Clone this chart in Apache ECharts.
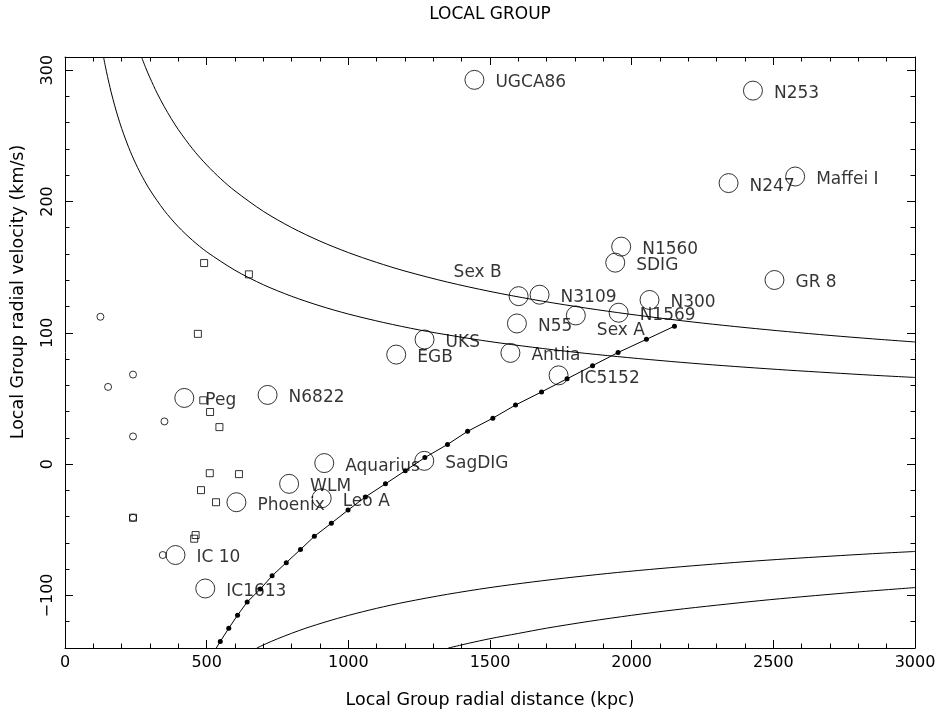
<!DOCTYPE html>
<html>
<head>
<meta charset="utf-8">
<title>Local Group</title>
<script src="https://cdn.jsdelivr.net/npm/echarts@6/dist/echarts.min.js"></script>
<style>
  html, body { margin: 0; padding: 0; background: #fff; }
  #chart { width: 940px; height: 715px; }
</style>
</head>
<body>
<div id="chart"></div>
<script>
// ---- Named galaxies: Local Group radial distance (kpc) and radial velocity (km/s)
const galaxyNames = ['UGCA86', 'N253', 'N247', 'Maffei I', 'GR 8', 'N1560', 'SDIG', 'Sex B', 'N3109',
  'N300', 'N1569', 'N55', 'Sex A', 'UKS', 'EGB', 'Antlia', 'IC5152', 'Peg', 'N6822', 'Aquarius',
  'SagDIG', 'WLM', 'Leo A', 'Phoenix', 'IC 10', 'IC1613'];
const galaxyDist = [1445, 2428, 2342, 2577, 2504, 1963, 1942, 1601, 1675,
  2063, 1954, 1595, 1803, 1269, 1169, 1572, 1742, 421, 715, 915,
  1268, 791, 906, 605, 390, 495];
const galaxyVel = [292.6, 284.4, 214, 219, 140.2, 165.6, 153.4, 127.9, 129,
  125, 115.3, 107.1, 113.2, 94.9, 83.4, 84.7, 67.6, 50.4, 52.7, 0.8,
  2.5, -15, -26, -29, -69.2, -94.7];

// ---- Satellites shown as small circles
const smallCircDist = [125, 240, 152, 351, 240, 240, 345];
const smallCircVel = [112.2, 68.2, 58.8, 32.5, 21.1, -40.8, -69.2];

// ---- Satellites shown as small squares
const squareDist = [491, 649, 469, 488, 512, 545, 511, 614, 480, 533, 240, 461, 456];
const squareVel = [153.1, 144.5, 99.2, 48.6, 39.7, 28.2, -6.9, -7.6, -19.8, -29, -40.8, -54, -56.8];

// ---- Model trajectory (time steps marked by dots)
const trajDist = [2151, 2052, 1952, 1862, 1772, 1682, 1590, 1510, 1421, 1350, 1270, 1201, 1131,
  1060, 999, 940, 880, 831, 781, 731, 690, 643, 609, 578, 548, 520];
const trajVel = [105, 95, 85, 75, 65, 55, 45, 35, 25, 15, 5, -5, -15,
  -25, -35, -45, -55, -65, -75, -85, -95, -105, -115, -125, -135, -145];

// ---- Escape-velocity envelopes
const upperOuterDist = [270, 285, 300, 325, 350, 375, 400, 450, 500, 550, 600, 700, 800, 900, 1000, 1100, 1200,
  1350, 1500, 1650, 1800, 1950, 2100, 2250, 2400, 2550, 2700, 2850, 3000];
const upperOuterVel = [310.0, 301.7, 294.1, 282.5, 272.3, 263.1, 254.7, 240.1, 227.8, 217.2, 208.0, 192.5, 180.1,
  169.8, 161.1, 153.6, 147.0, 138.6, 131.5, 125.4, 120.1, 115.4, 111.2, 107.4, 104.0, 100.9, 98.0, 95.4, 93.0];
const upperInnerDist = [136, 143, 150, 162, 175, 187, 200, 225, 250, 275, 300, 350, 400, 450, 500, 600, 700, 800,
  900, 1000, 1125, 1250, 1375, 1500, 1650, 1800, 1950, 2100, 2250, 2400, 2550, 2700, 2850, 3000];
const upperInnerVel = [310.0, 302.3, 295.2, 284.0, 273.3, 264.4, 255.6, 241.0, 228.6, 218.0, 208.7, 193.2, 180.7,
  170.4, 161.7, 147.6, 136.6, 127.8, 120.5, 114.3, 107.8, 102.2, 97.5, 93.3, 89.0, 85.2, 81.9, 78.9, 76.2, 73.8,
  71.6, 69.6, 67.7, 66.0];
const lowerInnerDist = [677, 710, 750, 800, 850, 925, 1000, 1100, 1200, 1350, 1500, 1650, 1800, 1950, 2100, 2250,
  2400, 2550, 2700, 2850, 3000];
const lowerInnerVel = [-140.0, -136.7, -133.0, -128.8, -124.9, -119.8, -115.2, -109.8, -105.1, -99.1, -94.0, -89.7,
  -85.9, -82.5, -79.5, -76.8, -74.3, -72.1, -70.1, -68.2, -66.5];
const lowerOuterDist = [1353, 1425, 1500, 1600, 1700, 1850, 2000, 2150, 2300, 2450, 2600, 2800, 3000];
const lowerOuterVel = [-140.0, -136.4, -132.9, -128.9, -124.9, -119.7, -115.1, -111.0, -107.4, -104.0, -101.0,
  -97.3, -94.0];

// ---- Axes
const xMajorTicks = [0, 500, 1000, 1500, 2000, 2500, 3000];
const xMinorTicks = [100, 200, 300, 400, 600, 700, 800, 900, 1100, 1200, 1300, 1400, 1600, 1700, 1800, 1900,
  2100, 2200, 2300, 2400, 2600, 2700, 2800, 2900];
const yMajorTicks = [-100, 0, 100, 200, 300];
const yMinorTicks = [-120, -80, -60, -40, -20, 20, 40, 60, 80, 120, 140, 160, 180, 220, 240, 260, 280];

const titleText = 'LOCAL GROUP';
const xTitle = 'Local Group radial distance (kpc)';
const yTitle = 'Local Group radial velocity (km/s)';

// ---- Styling
const INK = '#000';
const FONT = '"DejaVu Sans", sans-serif';
const LABEL_DROP = 3;
const labelShift = { 'Sex B': [-86, -24], 'Sex A': [0, 15] };

const pairs = (xs, ys) => xs.map((x, i) => [x, ys[i]]);

function xAxisDef(position, ticks, len, withLabels, withLine) {
  return {
    type: 'value', position, min: 0, max: 3000, interval: 100,
    axisLine: { show: withLine, onZero: false, lineStyle: { color: INK, width: 1 } },
    axisTick: { show: true, inside: true, length: len, customValues: ticks, lineStyle: { color: INK, width: 1 } },
    axisLabel: withLabels
      ? { show: true, customValues: xMajorTicks, margin: 7, color: INK, fontSize: 16, fontFamily: FONT,
          formatter: v => String(v) }
      : { show: false },
    splitLine: { show: false }
  };
}

function yAxisDef(position, ticks, len, withLabels, withLine) {
  return {
    type: 'value', position, min: -140, max: 310, interval: 20,
    axisLine: { show: withLine, onZero: false, lineStyle: { color: INK, width: 1 } },
    axisTick: { show: true, inside: true, length: len, customValues: ticks, lineStyle: { color: INK, width: 1 } },
    axisLabel: withLabels
      ? {
          show: true, customValues: yMajorTicks, rotate: 90, margin: 9, color: INK, fontSize: 16, fontFamily: FONT,
          formatter: v => (v < 0 ? '\u2212' + Math.abs(v) : String(v))
        }
      : { show: false },
    splitLine: { show: false }
  };
}

const lineCurve = (xs, ys) => ({
  type: 'line', data: pairs(xs, ys), smooth: 0.3, symbol: 'none',
  lineStyle: { color: INK, width: 1 }, silent: true, clip: true, z: 2
});

const hollow = { color: 'rgba(0,0,0,0)', borderColor: INK, borderWidth: 1 };

const option = {
  animation: false,
  backgroundColor: '#fff',
  grid: { left: 65, top: 57, right: 25, bottom: 67, containLabel: false },
  xAxis: [
    xAxisDef('bottom', xMajorTicks, 8, true, true),
    xAxisDef('bottom', xMinorTicks, 4.5, false, false),
    xAxisDef('top', xMajorTicks, 8, false, true),
    xAxisDef('top', xMinorTicks, 4.5, false, false)
  ],
  yAxis: [
    yAxisDef('left', yMajorTicks, 8, true, true),
    yAxisDef('left', yMinorTicks, 4.5, false, false),
    yAxisDef('right', yMajorTicks, 8, false, true),
    yAxisDef('right', yMinorTicks, 4.5, false, false)
  ],
  graphic: [
    { type: 'text', x: 490, y: 15, silent: true,
      style: { text: titleText, align: 'center', verticalAlign: 'middle', fontSize: 17, fontFamily: FONT, fill: INK } },
    { type: 'text', x: 490, y: 700, silent: true,
      style: { text: xTitle, align: 'center', verticalAlign: 'middle', fontSize: 17.5, fontFamily: FONT, fill: INK } },
    { type: 'text', x: 18, y: 292, rotation: Math.PI / 2, silent: true,
      style: { text: yTitle, align: 'center', verticalAlign: 'middle', fontSize: 17.5, fontFamily: FONT, fill: INK } }
  ],
  series: [
    lineCurve(upperOuterDist, upperOuterVel),
    lineCurve(upperInnerDist, upperInnerVel),
    lineCurve(lowerInnerDist, lowerInnerVel),
    lineCurve(lowerOuterDist, lowerOuterVel),
    {
      type: 'line', data: pairs(trajDist, trajVel), symbol: 'circle', symbolSize: 5,
      showSymbol: true, showAllSymbol: true, clip: true, silent: true,
      itemStyle: { color: INK }, lineStyle: { color: INK, width: 1 }, z: 3
    },
    {
      type: 'scatter', symbol: 'circle', symbolSize: 7, silent: true, clip: true,
      itemStyle: hollow, data: pairs(smallCircDist, smallCircVel), z: 4
    },
    {
      type: 'scatter', symbol: 'rect', symbolSize: 7, silent: true, clip: true,
      itemStyle: hollow, data: pairs(squareDist, squareVel), z: 4
    },
    {
      type: 'scatter', symbol: 'circle', symbolSize: 19, silent: true, clip: true,
      itemStyle: hollow, z: 5,
      label: { show: true, position: 'right', distance: 11, offset: [0, LABEL_DROP], formatter: '{b}',
        color: INK, fontSize: 17, fontFamily: FONT },
      data: galaxyNames.map((n, i) => {
        const item = { name: n, value: [galaxyDist[i], galaxyVel[i]] };
        if (labelShift[n]) item.label = { offset: labelShift[n] };
        return item;
      })
    }
  ]
};

const chart = echarts.init(document.getElementById('chart'), null, { renderer: 'canvas' });
chart.setOption(option);
</script>
</body>
</html>
